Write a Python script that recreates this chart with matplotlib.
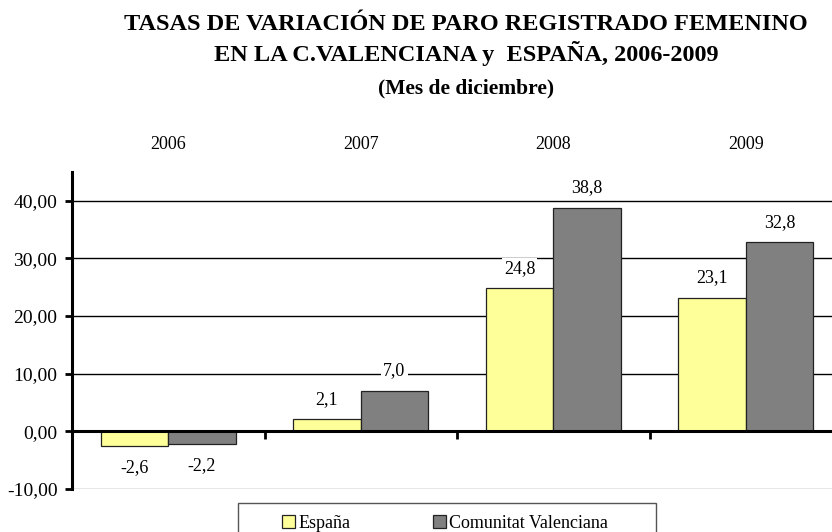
import matplotlib
matplotlib.use("Agg")
import matplotlib.pyplot as plt
from matplotlib.patches import Rectangle, Patch
from matplotlib.ticker import FixedLocator, FuncFormatter
import numpy as np

years = ["2006", "2007", "2008", "2009"]
espana = [-2.6, 2.1, 24.8, 23.1]
cv = [-2.2, 7.0, 38.8, 32.8]
series_names = ["España", "Comunitat Valenciana"]
yticks = [-10, 0, 10, 20, 30, 40]

plt.rcParams['font.family'] = ['Liberation Serif', 'DejaVu Serif']

W, H = 832, 532
fig = plt.figure(figsize=(W / 100, H / 100), dpi=100)

ax_left, ax_right, ax_top, ax_bottom = 72, 842, 172, 489
ax = fig.add_axes([ax_left / W, 1 - ax_bottom / H, (ax_right - ax_left) / W, (ax_bottom - ax_top) / H])

x = np.arange(len(years))
bw = 0.35
b1 = ax.bar(x - bw / 2, espana, bw, color='#FFFF99', edgecolor='#222222', linewidth=0.9, zorder=3)
b2 = ax.bar(x + bw / 2, cv, bw, color='#808080', edgecolor='#222222', linewidth=0.9, zorder=3)

ax.set_xlim(-0.5, 3.5)
ax.set_ylim(-10, 45)

def fmt(v):
    return f"{v:.1f}".replace('.', ',')

for bars, vals in ((b1, espana), (b2, cv)):
    for rect, v in zip(bars, vals):
        cx = rect.get_x() + rect.get_width() / 2
        off = 14.5 if v >= 0 else -15.5
        ax.annotate(fmt(v), (cx, v), xytext=(0, off), textcoords='offset points',
                    ha='center', va='center', fontsize=13, zorder=5,
                    bbox=dict(boxstyle='square,pad=0.12', fc='white', ec='none'))

# gridlines
for yv in yticks:
    if yv == 0:
        continue
    ax.axhline(yv, color='#808080' if yv == yticks[0] else 'black', linewidth=1.0, zorder=1)

# y axis
ax.yaxis.set_major_locator(FixedLocator(yticks))
ax.yaxis.set_major_formatter(FuncFormatter(lambda v, p: f"{v:.2f}".replace('.', ',')))
ax.tick_params(axis='y', which='major', direction='out', length=5, width=2, labelsize=14, pad=5.5)

# x axis: spine at zero, boundary ticks, labels on top
ax.spines['bottom'].set_position(('data', 0))
ax.spines['bottom'].set_linewidth(2.2)
ax.spines['bottom'].set_zorder(4)
ax.spines['left'].set_linewidth(2.2)
ax.spines['top'].set_visible(False)
ax.spines['right'].set_visible(False)
ax.set_xticks(x)
ax.set_xticklabels(years)
ax.set_xticks([0.5, 1.5, 2.5], minor=True)
ax.tick_params(axis='x', which='major', bottom=False, top=False, labelbottom=False, labeltop=True,
               labelsize=13, pad=10.5)
ax.tick_params(axis='x', which='minor', bottom=True, direction='out', length=6, width=2)

# Title
cxf = 466 / W
fig.text(cxf, 1 - 24 / H, "TASAS DE VARIACIÓN DE PARO REGISTRADO FEMENINO", ha='center', va='center',
         fontsize=17.5, fontweight='bold')
fig.text(cxf, 1 - 54 / H, "EN LA C.VALENCIANA y  ESPAÑA, 2006-2009", ha='center', va='center',
         fontsize=17.5, fontweight='bold')
fig.text(cxf, 1 - 88 / H, "(Mes de diciembre)", ha='center', va='center',
         fontsize=15.5, fontweight='bold')

# Legend
fig.patches.append(Rectangle((238 / W, 1 - 545 / H), (656 - 238) / W, (545 - 503) / H,
                             transform=fig.transFigure, fc='white', ec='#555555', lw=1.0))
handles = [Patch(fc='#FFFF99', ec='#222222', lw=0.9), Patch(fc='#808080', ec='#222222', lw=0.9)]
fig.legend(handles, series_names, loc='center left', bbox_to_anchor=(282 / W, 1 - 523 / H), ncol=2,
           frameon=False, fontsize=13, handlelength=0.72, handleheight=0.72, handletextpad=0.17,
           columnspacing=4.6, borderpad=0, borderaxespad=0)

fig.savefig("out.png", dpi=100)
